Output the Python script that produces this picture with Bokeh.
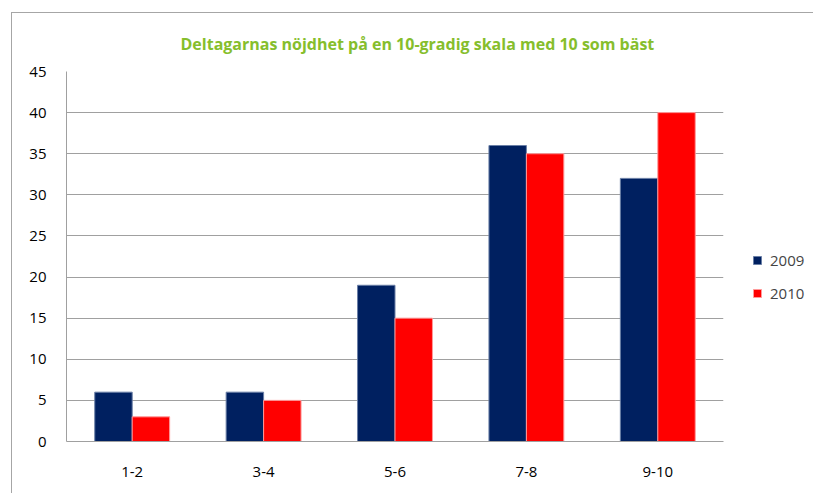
from bokeh.plotting import figure
from bokeh.models import ColumnDataSource, FactorRange, Legend, LegendItem, Title
from bokeh.transform import dodge
from bokeh.embed import file_html
from bokeh.resources import INLINE

categories = ["1-2", "3-4", "5-6", "7-8", "9-10"]
values_2009 = [6, 6, 19, 36, 32]
values_2010 = [3, 5, 15, 35, 40]
series_names = ["2009", "2010"]
title_text = "Deltagarnas nöjdhet på en 10-gradig skala med 10 som bäst"

src = ColumnDataSource(dict(cat=categories, v2009=values_2009, v2010=values_2010))

FONT = "Open Sans"
ML, MT = 11, 12  # outer frame position
p = figure(x_range=FactorRange(*categories), y_range=(0, 45),
           frame_width=657, frame_height=370,
           output_backend="svg", toolbar_location=None,
           min_border_left=66 - ML - 1, min_border_right=0,
           min_border_top=20, min_border_bottom=495 - 441 - 2)
p.margin = (MT, 0, 0, ML)
p.styles = {"border-left": "1px solid #a6a6a6", "border-top": "1px solid #a6a6a6"}
p.title = None
p.outline_line_color = None
p.background_fill_color = "white"
p.border_fill_color = "white"

bw = 0.285
r1 = p.vbar(x=dodge("cat", -bw / 2, range=p.x_range), top="v2009", width=bw, source=src,
            fill_color="#002060", line_color="#6a7fa6", line_width=1)
r2 = p.vbar(x=dodge("cat", bw / 2, range=p.x_range), top="v2010", width=bw, source=src,
            fill_color="#FF0000", line_color="#ff9a9a", line_width=1)

p.yaxis.ticker = list(range(0, 46, 5))
for ax in (p.xaxis[0], p.yaxis[0]):
    ax.axis_line_color = "#a0a0a0"
    ax.axis_line_width = 1
    ax.major_tick_line_color = None
    ax.minor_tick_line_color = None
    ax.major_label_text_font = FONT
    ax.major_label_text_font_size = "15px"
    ax.major_label_text_color = "#000000"
p.yaxis.major_label_standoff = 14
p.xaxis.major_label_standoff = 19
p.xgrid.grid_line_color = None
p.ygrid.grid_line_color = "#a0a0a0"
p.ygrid.grid_line_width = 1

t = Title(text=title_text, align="left", text_font=FONT,
          text_font_size="16px", text_font_style="bold", text_color="#86BE2C",
          offset=114, standoff=34)
p.add_layout(t, "above")

legend = Legend(items=[LegendItem(label=series_names[0], renderers=[r1]),
                       LegendItem(label=series_names[1], renderers=[r2])],
                location=(29, 138), orientation="vertical")
legend.border_line_color = None
legend.background_fill_alpha = 0
legend.padding = 0
legend.margin = 0
legend.spacing = 13
legend.glyph_width = 10
legend.glyph_height = 10
legend.label_height = 20
legend.label_standoff = 8
legend.label_text_font = FONT
legend.label_text_font_size = "15px"
p.add_layout(legend, "right")

open("out.html", "w").write(file_html(p, INLINE))
